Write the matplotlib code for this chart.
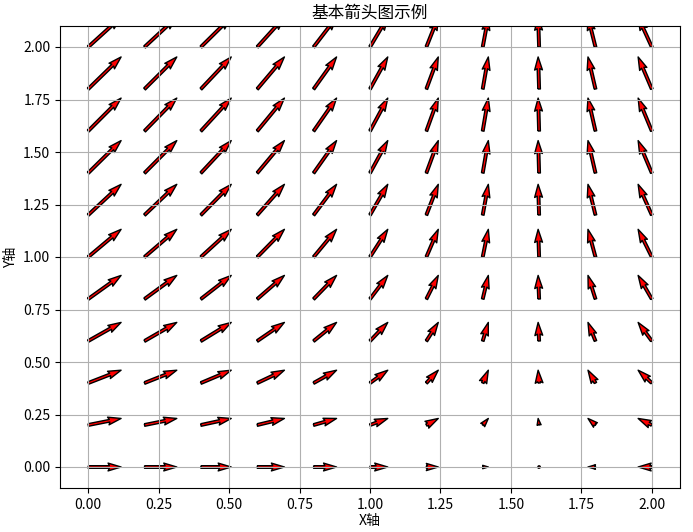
import numpy as np
import matplotlib
matplotlib.use("Agg")
import matplotlib.pyplot as plt

plt.rcParams['font.family'] = ['Noto Sans CJK SC', 'DejaVu Sans']
plt.rcParams['axes.unicode_minus'] = False

x_positions = [0.0, 0.2, 0.4, 0.6, 0.8, 1.0, 1.2, 1.4, 1.6, 1.8, 2.0]
y_positions = [0.0, 0.2, 0.4, 0.6, 0.8, 1.0, 1.2, 1.4, 1.6, 1.8, 2.0]
# horizontal component per column, vertical component per row
u_by_column = [1.0, 0.98, 0.921, 0.825, 0.697, 0.54, 0.362, 0.17, -0.029, -0.227, -0.416]
v_by_row = [0.0, 0.199, 0.389, 0.565, 0.717, 0.841, 0.932, 0.985, 1.0, 0.974, 0.909]

X, Y = np.meshgrid(x_positions, y_positions)
U, _ = np.meshgrid(u_by_column, y_positions)
_, V = np.meshgrid(x_positions, v_by_row)

fig = plt.figure(figsize=(6.93, 5.32), dpi=100)
ax = fig.add_axes([60/693, 1-488/532, 620/693, 462/532])
ax.quiver(X, Y, U, V, color='red', edgecolor='black', linewidth=1, width=0.0042)
ax.set_title('基本箭头图示例', fontsize=12)
ax.set_xlabel('X轴', fontsize=10, labelpad=2)
ax.set_ylabel('Y轴', fontsize=10)
ax.grid(True)
ax.set_xticks([0, 0.25, 0.5, 0.75, 1.0, 1.25, 1.5, 1.75, 2.0])
ax.set_xticklabels(['0.00', '0.25', '0.50', '0.75', '1.00', '1.25', '1.50', '1.75', '2.00'])
ax.set_yticks([0, 0.25, 0.5, 0.75, 1.0, 1.25, 1.5, 1.75, 2.0])
ax.set_yticklabels(['0.00', '0.25', '0.50', '0.75', '1.00', '1.25', '1.50', '1.75', '2.00'])
ax.set_xlim(-0.1, 2.1)
ax.set_ylim(-0.1, 2.1)
fig.savefig('out.png', dpi=100)
